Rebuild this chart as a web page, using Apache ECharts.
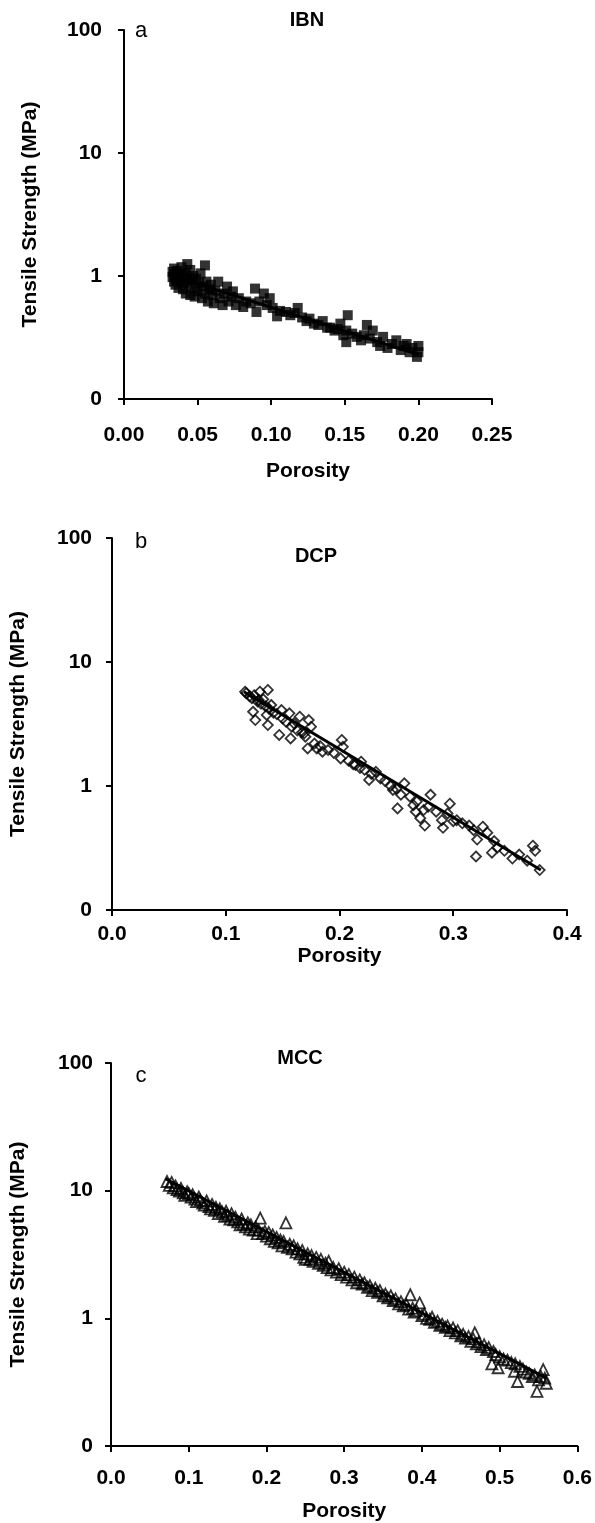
<!DOCTYPE html>
<html><head><meta charset="utf-8">
<script src="https://cdn.jsdelivr.net/npm/echarts@6/dist/echarts.min.js"></script>
<style>html,body{margin:0;padding:0;background:#fff}#c{width:595px;height:1523px}</style>
</head><body><div id="c"></div>
<script>
// ---- data ----
const panelTitles = ['IBN', 'DCP', 'MCC'];
const panelLetters = ['a', 'b', 'c'];
const xAxisName = 'Porosity';
const yAxisName = 'Tensile Strength (MPa)';
const yTicks = [0.1, 1, 10, 100];
const xMaxA = 0.25, xMaxB = 0.4, xMaxC = 0.6;

const ibnPoints = [[0.033,1.08],[0.033,0.98],[0.034,1.15],[0.034,0.90],[0.035,1.02],[0.035,0.85],[0.036,1.10],[0.036,0.95],[0.037,0.80],[0.038,1.05],[0.038,0.92],[0.039,1.18],[0.040,0.98],[0.040,0.78],[0.041,0.88],[0.042,1.05],[0.042,0.72],[0.043,1.25],[0.043,0.95],[0.044,0.85],[0.045,1.12],[0.045,0.70],[0.046,0.92],[0.047,1.00],[0.048,0.80],[0.048,0.68],[0.049,0.95],[0.050,0.75],[0.051,0.88],[0.052,1.05],[0.053,0.66],[0.054,0.82],[0.055,1.22],[0.055,0.72],[0.056,0.90],[0.057,0.62],[0.058,0.78],[0.059,0.85],[0.060,0.70],[0.061,0.60],[0.062,0.76],[0.064,0.90],[0.065,0.66],[0.067,0.58],[0.068,0.72],[0.070,0.82],[0.071,0.62],[0.073,0.68],[0.074,0.75],[0.076,0.58],[0.078,0.66],[0.081,0.56],[0.083,0.62],[0.086,0.60],[0.089,0.79],[0.090,0.51],[0.092,0.62],[0.095,0.72],[0.097,0.58],[0.099,0.66],[0.101,0.55],[0.104,0.47],[0.106,0.52],[0.110,0.51],[0.113,0.48],[0.116,0.50],[0.118,0.55],[0.121,0.46],[0.124,0.43],[0.126,0.45],[0.129,0.41],[0.132,0.40],[0.135,0.43],[0.138,0.38],[0.140,0.38],[0.143,0.36],[0.145,0.37],[0.147,0.41],[0.149,0.33],[0.151,0.36],[0.151,0.29],[0.152,0.48],[0.155,0.34],[0.158,0.32],[0.161,0.30],[0.163,0.33],[0.165,0.40],[0.167,0.31],[0.169,0.36],[0.172,0.29],[0.174,0.27],[0.176,0.32],[0.179,0.26],[0.182,0.28],[0.185,0.30],[0.188,0.25],[0.190,0.27],[0.192,0.28],[0.194,0.24],[0.196,0.26],[0.199,0.22],[0.200,0.27],[0.200,0.24]];
const ibnFit = [[0.031,1.02],[0.200,0.23]];

const dcpPoints = [[0.117,5.76],[0.118,5.6],[0.121,5.3],[0.123,5.1],[0.124,3.97],[0.125,5.4],[0.126,3.40],[0.128,4.8],[0.129,4.94],[0.130,5.76],[0.131,4.6],[0.133,5.0],[0.135,4.4],[0.136,3.74],[0.137,5.95],[0.137,3.10],[0.138,4.2],[0.140,4.5],[0.142,3.9],[0.145,3.8],[0.147,2.58],[0.149,4.10],[0.150,3.5],[0.153,3.3],[0.156,3.86],[0.157,2.42],[0.158,3.0],[0.160,3.2],[0.163,2.8],[0.165,3.62],[0.167,2.7],[0.169,2.66],[0.170,2.5],[0.172,2.01],[0.173,3.40],[0.175,3.01],[0.178,2.2],[0.180,2.01],[0.183,2.1],[0.185,1.89],[0.190,1.95],[0.195,1.85],[0.201,1.67],[0.202,2.35],[0.203,2.07],[0.208,1.60],[0.212,1.50],[0.214,1.48],[0.218,1.40],[0.219,1.57],[0.222,1.35],[0.226,1.12],[0.228,1.25],[0.232,1.30],[0.236,1.15],[0.240,1.10],[0.245,1.00],[0.247,0.93],[0.250,0.95],[0.251,0.66],[0.254,0.85],[0.257,1.05],[0.262,0.82],[0.265,0.70],[0.267,0.62],[0.268,0.75],[0.271,0.55],[0.274,0.64],[0.275,0.48],[0.278,0.68],[0.280,0.85],[0.285,0.62],[0.290,0.53],[0.291,0.46],[0.295,0.60],[0.297,0.72],[0.300,0.52],[0.303,0.53],[0.308,0.50],[0.314,0.48],[0.318,0.44],[0.320,0.27],[0.321,0.37],[0.326,0.47],[0.330,0.42],[0.334,0.29],[0.336,0.36],[0.339,0.32],[0.345,0.30],[0.352,0.26],[0.358,0.28],[0.365,0.25],[0.370,0.33],[0.372,0.30],[0.376,0.21]];
const dcpFit = [[0.116,5.75],[0.377,0.21]];

const mccPoints = [[0.072,11.8],[0.075,11.0],[0.078,11.6],[0.080,10.5],[0.083,10.9],[0.085,10.2],[0.088,9.9],[0.090,10.4],[0.093,9.6],[0.095,9.2],[0.098,9.8],[0.100,9.5],[0.103,8.9],[0.105,9.3],[0.108,8.6],[0.110,8.2],[0.113,8.9],[0.115,8.4],[0.118,8.0],[0.120,7.7],[0.123,8.3],[0.126,7.5],[0.128,7.2],[0.130,7.8],[0.133,7.0],[0.135,7.4],[0.138,6.6],[0.140,7.2],[0.143,6.8],[0.146,6.3],[0.148,6.9],[0.150,6.4],[0.153,6.0],[0.155,6.6],[0.158,5.9],[0.160,6.2],[0.163,5.7],[0.166,5.4],[0.168,6.0],[0.170,5.5],[0.173,5.2],[0.176,5.6],[0.178,5.0],[0.180,5.4],[0.183,4.9],[0.186,5.2],[0.188,4.6],[0.190,4.9],[0.192,6.1],[0.195,4.6],[0.198,4.8],[0.200,4.4],[0.203,4.7],[0.205,4.2],[0.208,4.5],[0.210,4.0],[0.213,4.3],[0.215,3.9],[0.218,4.1],[0.220,3.7],[0.222,4.0],[0.225,5.6],[0.227,3.6],[0.230,3.8],[0.233,3.5],[0.235,3.7],[0.238,3.3],[0.240,3.5],[0.243,3.2],[0.246,3.4],[0.248,3.0],[0.250,2.9],[0.253,3.2],[0.256,2.9],[0.258,3.1],[0.260,2.8],[0.264,3.0],[0.267,2.7],[0.270,2.9],[0.273,2.6],[0.276,2.7],[0.278,2.5],[0.280,2.8],[0.283,2.4],[0.286,2.5],[0.290,2.3],[0.293,2.45],[0.296,2.2],[0.300,2.3],[0.303,2.1],[0.306,2.2],[0.310,2.0],[0.313,2.1],[0.316,1.9],[0.320,2.0],[0.323,1.85],[0.326,1.9],[0.330,1.75],[0.333,1.8],[0.336,1.65],[0.340,1.72],[0.343,1.6],[0.346,1.65],[0.350,1.5],[0.353,1.55],[0.356,1.45],[0.360,1.5],[0.363,1.38],[0.366,1.42],[0.370,1.3],[0.373,1.35],[0.376,1.25],[0.380,1.28],[0.383,1.18],[0.385,1.53],[0.388,1.2],[0.390,1.12],[0.393,1.15],[0.397,1.32],[0.400,1.05],[0.403,1.08],[0.406,1.0],[0.410,0.98],[0.413,1.02],[0.416,0.93],[0.420,0.95],[0.423,0.88],[0.426,0.9],[0.430,0.85],[0.433,0.87],[0.436,0.8],[0.440,0.84],[0.443,0.77],[0.446,0.8],[0.450,0.73],[0.453,0.75],[0.456,0.7],[0.460,0.72],[0.463,0.66],[0.466,0.69],[0.468,0.77],[0.470,0.63],[0.473,0.65],[0.476,0.6],[0.480,0.62],[0.483,0.57],[0.486,0.59],[0.490,0.44],[0.492,0.55],[0.495,0.52],[0.498,0.41],[0.500,0.5],[0.505,0.48],[0.510,0.47],[0.515,0.45],[0.519,0.385],[0.520,0.44],[0.523,0.32],[0.526,0.42],[0.530,0.4],[0.534,0.38],[0.538,0.37],[0.542,0.35],[0.545,0.36],[0.548,0.268],[0.550,0.33],[0.553,0.35],[0.556,0.397],[0.558,0.34],[0.560,0.31]];
const mccFit = [[0.070,12.4],[0.560,0.34]];

// ---- chart ----
const FONT = "'Liberation Sans', Arial, sans-serif";
const chart = echarts.init(document.getElementById('c'), null, {renderer: 'canvas'});

const grids = [
  {left: 124, top: 30, width: 368, height: 369},
  {left: 104, top: 538, width: 463, height: 372},
  {left: 101, top: 1063, width: 477, height: 383}
];
const xMaxes = [xMaxA, xMaxB, xMaxC];
const xIntervals = [0.05, 0.1, 0.1];
const xDecimals = [2, 1, 1];
const xLabelMargin = [26, 14, 22];
const xNameGap = [62, 26, 55];
const yNameGap = [83, 83, 82];
const yLabelMargin = [22, 20, 18];

const axisLine = {show: true, lineStyle: {color: '#000', width: 2}};
const axisTick = {show: true, inside: false, length: 6, lineStyle: {color: '#000', width: 2}};

const xAxes = grids.map((g, i) => ({
  type: 'value', gridIndex: i, min: 0, max: xMaxes[i], interval: xIntervals[i],
  axisLine, axisTick, splitLine: {show: false},
  axisLabel: {color: '#000', fontFamily: FONT, fontWeight: 'bold', fontSize: 21, margin: xLabelMargin[i],
    formatter: v => v.toFixed(xDecimals[i])},
  name: xAxisName, nameLocation: 'middle', nameGap: xNameGap[i],
  nameTextStyle: {color: '#000', fontFamily: FONT, fontWeight: 'bold', fontSize: 21}
}));

const yAxes = grids.map((g, i) => ({
  type: 'log', logBase: 10, gridIndex: i, min: yTicks[0], max: yTicks[yTicks.length - 1],
  axisLine, axisTick, splitLine: {show: false}, minorTick: {show: false},
  axisLabel: {color: '#000', fontFamily: FONT, fontWeight: 'bold', fontSize: 21, margin: yLabelMargin[i],
    formatter: v => { const r = Math.round(v * 1000) / 1000; return r < 1 ? '0' : String(Math.round(r)); }},
  name: yAxisName, nameLocation: 'middle', nameRotate: 90, nameGap: yNameGap[i],
  nameTextStyle: {color: '#000', fontFamily: FONT, fontWeight: 'bold', fontSize: 21}
}));

const hollow = {color: 'rgba(255,255,255,0)', borderColor: '#000', borderWidth: 1.8};
const series = [
  {type: 'scatter', xAxisIndex: 0, yAxisIndex: 0, data: ibnPoints, symbol: 'rect', symbolSize: 10,
   itemStyle: {color: '#000'}},
  {type: 'line', xAxisIndex: 0, yAxisIndex: 0, data: ibnFit, symbol: 'none', z: 5,
   lineStyle: {color: '#000', width: 3}},
  {type: 'scatter', xAxisIndex: 1, yAxisIndex: 1, data: dcpPoints, symbol: 'diamond', symbolSize: 10,
   itemStyle: hollow},
  {type: 'line', xAxisIndex: 1, yAxisIndex: 1, data: dcpFit, symbol: 'none', z: 5,
   lineStyle: {color: '#000', width: 3}},
  {type: 'scatter', xAxisIndex: 2, yAxisIndex: 2, data: mccPoints, symbol: 'triangle', symbolSize: 11,
   itemStyle: hollow},
  {type: 'line', xAxisIndex: 2, yAxisIndex: 2, data: mccFit, symbol: 'none', z: 5,
   lineStyle: {color: '#000', width: 3}}
];
series.forEach(s => { s.emphasis = {disabled: true}; s.silent = true; });

const titlePos = [[307, 10], [316, 546], [300, 1048]];
const letterPos = [[141, 20], [141, 531], [141, 1065]];
const titles = [];
panelTitles.forEach((t, i) => titles.push({text: t, left: titlePos[i][0], top: titlePos[i][1], textAlign: 'center', padding: 0,
  textStyle: {color: '#000', fontFamily: FONT, fontWeight: 'bold', fontSize: 20}}));
panelLetters.forEach((t, i) => titles.push({text: t, left: letterPos[i][0], top: letterPos[i][1], textAlign: 'center', padding: 0,
  textStyle: {color: '#000', fontFamily: FONT, fontWeight: 'normal', fontSize: 22}}));

chart.setOption({
  animation: false,
  backgroundColor: '#fff',
  title: titles,
  grid: grids,
  xAxis: xAxes,
  yAxis: yAxes,
  series
});
</script></body></html>
